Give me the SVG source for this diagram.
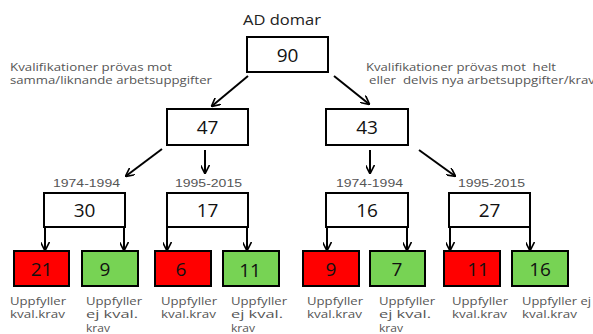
<svg xmlns="http://www.w3.org/2000/svg" width="593" height="334" viewBox="0 0 593 334">
<defs>
<marker id="ah" viewBox="0 0 10 10" refX="9" refY="5" markerWidth="9" markerHeight="9" markerUnits="userSpaceOnUse" orient="auto">
<path d="M0,0 L10,5 L0,10" fill="none" stroke="#000" stroke-width="1.8"/>
</marker>
</defs>
<style>
.box{fill:#fff;stroke:#000;stroke-width:2}
.red{fill:#ff0000;stroke:#000;stroke-width:2}
.grn{fill:#77d354;stroke:#000;stroke-width:2}
.num{font-family:"Open Sans","DejaVu Sans",sans-serif;font-size:19px;fill:#111;text-anchor:middle}
.lbl{font-family:"Open Sans","Liberation Sans",sans-serif;font-size:10px;fill:#555}
.bl{font-family:"Open Sans","Liberation Sans",sans-serif;font-size:10px;fill:#555}
.yr{font-family:"Liberation Sans",sans-serif;font-size:11px;fill:#555}
.ttl{font-family:"Open Sans",sans-serif;font-size:14px;fill:#222}
.con{stroke:#000;stroke-width:2;fill:none;marker-end:url(#ah)}
</style>
<text class="ttl" x="243" y="25" textLength="78" lengthAdjust="spacingAndGlyphs">AD domar</text>
<text class="lbl" x="10" y="70.5" textLength="162" lengthAdjust="spacingAndGlyphs">Kvalifikationer prövas mot</text>
<text class="lbl" x="10" y="84" textLength="202" lengthAdjust="spacingAndGlyphs">samma/liknande arbetsuppgifter</text>
<text class="lbl" x="366" y="70.5" textLength="190" lengthAdjust="spacingAndGlyphs" xml:space="preserve">Kvalifikationer prövas mot  helt</text>
<text class="lbl" x="369" y="84" textLength="226" lengthAdjust="spacingAndGlyphs" xml:space="preserve">eller  delvis nya arbetsuppgifter/krav</text>
<text class="yr" x="53" y="187" textLength="67" lengthAdjust="spacingAndGlyphs">1974-1994</text>
<text class="yr" x="175" y="187" textLength="67" lengthAdjust="spacingAndGlyphs">1995-2015</text>
<text class="yr" x="336" y="187" textLength="67" lengthAdjust="spacingAndGlyphs">1974-1994</text>
<text class="yr" x="458" y="187" textLength="67" lengthAdjust="spacingAndGlyphs">1995-2015</text>
<g id="connectors">
<line class="con" x1="248" y1="76" x2="212" y2="106"/>
<line class="con" x1="334" y1="76" x2="369" y2="104"/>
<line class="con" x1="162" y1="149" x2="126" y2="176"/>
<line class="con" x1="205" y1="150" x2="205" y2="173"/>
<line class="con" x1="370" y1="150" x2="370" y2="173"/>
<line class="con" x1="419" y1="150" x2="455" y2="176"/>
<line class="con" x1="45" y1="227" x2="45" y2="250"/>
<line class="con" x1="124" y1="227" x2="124" y2="250"/>
<line class="con" x1="167" y1="227" x2="167" y2="250"/>
<line class="con" x1="247" y1="227" x2="247" y2="250"/>
<line class="con" x1="327" y1="227" x2="327" y2="250"/>
<line class="con" x1="407" y1="227" x2="407" y2="250"/>
<line class="con" x1="450" y1="227" x2="450" y2="250"/>
<line class="con" x1="530" y1="227" x2="530" y2="250"/>
</g>
<g id="n90"><rect class="box" x="247" y="37" width="81" height="35"/><text class="num" x="287.5" y="62">90</text></g>
<g id="n47"><rect class="box" x="167" y="109" width="81" height="36"/><text class="num" x="207.5" y="134">47</text></g>
<g id="n43"><rect class="box" x="326" y="109" width="82" height="36"/><text class="num" x="367" y="134">43</text></g>
<g id="n30"><rect class="box" x="44" y="193" width="81" height="34"/><text class="num" x="84.5" y="217">30</text></g>
<g id="n17"><rect class="box" x="167" y="193" width="81" height="34"/><text class="num" x="207.5" y="217">17</text></g>
<g id="n16"><rect class="box" x="326" y="193" width="82" height="34"/><text class="num" x="367" y="217">16</text></g>
<g id="n27"><rect class="box" x="449" y="193" width="81" height="34"/><text class="num" x="489.5" y="217">27</text></g>
<g id="r21"><rect class="red" x="14" y="251" width="55" height="35"/><text class="num" x="41.5" y="276">21</text></g>
<g id="g9"><rect class="grn" x="82" y="251" width="56" height="35"/><text class="num" x="105" y="276">9</text></g>
<g id="r6"><rect class="red" x="155" y="251" width="56" height="35"/><text class="num" x="181" y="276">6</text></g>
<g id="g11"><rect class="grn" x="223" y="251" width="56" height="35"/><text class="num" x="250" y="277">11</text></g>
<g id="r9"><rect class="red" x="303" y="251" width="56" height="35"/><text class="num" x="331" y="276">9</text></g>
<g id="g7"><rect class="grn" x="370" y="251" width="55" height="35"/><text class="num" x="397" y="276">7</text></g>
<g id="r11"><rect class="red" x="444" y="251" width="56" height="35"/><text class="num" x="478" y="276">11</text></g>
<g id="g16"><rect class="grn" x="512" y="251" width="56" height="35"/><text class="num" x="540" y="276">16</text></g>
<g id="labels">
<text class="bl" x="10" y="304.5" textLength="56" lengthAdjust="spacingAndGlyphs">Uppfyller</text><text class="bl" x="10" y="318" textLength="55" lengthAdjust="spacingAndGlyphs">kval.krav</text>
<text class="bl" x="86" y="304.5" textLength="56" lengthAdjust="spacingAndGlyphs">Uppfyller</text><text class="bl" x="86" y="318" textLength="52" lengthAdjust="spacingAndGlyphs">ej kval.</text><text class="bl" x="86" y="331.5" textLength="24" lengthAdjust="spacingAndGlyphs">krav</text>
<text class="bl" x="161" y="304.5" textLength="56" lengthAdjust="spacingAndGlyphs">Uppfyller</text><text class="bl" x="161" y="318" textLength="55" lengthAdjust="spacingAndGlyphs">kval.krav</text>
<text class="bl" x="231" y="304.5" textLength="56" lengthAdjust="spacingAndGlyphs">Uppfyller</text><text class="bl" x="231" y="318" textLength="52" lengthAdjust="spacingAndGlyphs">ej kval.</text><text class="bl" x="231" y="331.5" textLength="24" lengthAdjust="spacingAndGlyphs">krav</text>
<text class="bl" x="307" y="304.5" textLength="56" lengthAdjust="spacingAndGlyphs">Uppfyller</text><text class="bl" x="307" y="318" textLength="55" lengthAdjust="spacingAndGlyphs">kval.krav</text>
<text class="bl" x="379" y="304.5" textLength="56" lengthAdjust="spacingAndGlyphs">Uppfyller</text><text class="bl" x="379" y="318" textLength="52" lengthAdjust="spacingAndGlyphs">ej kval.</text><text class="bl" x="379" y="331.5" textLength="24" lengthAdjust="spacingAndGlyphs">krav</text>
<text class="bl" x="452" y="304.5" textLength="56" lengthAdjust="spacingAndGlyphs">Uppfyller</text><text class="bl" x="452" y="318" textLength="55" lengthAdjust="spacingAndGlyphs">kval.krav</text>
<text class="bl" x="522" y="304.5" textLength="69" lengthAdjust="spacingAndGlyphs">Uppfyller ej</text><text class="bl" x="522" y="318" textLength="55" lengthAdjust="spacingAndGlyphs">kval.krav</text>
</g>
</svg>
